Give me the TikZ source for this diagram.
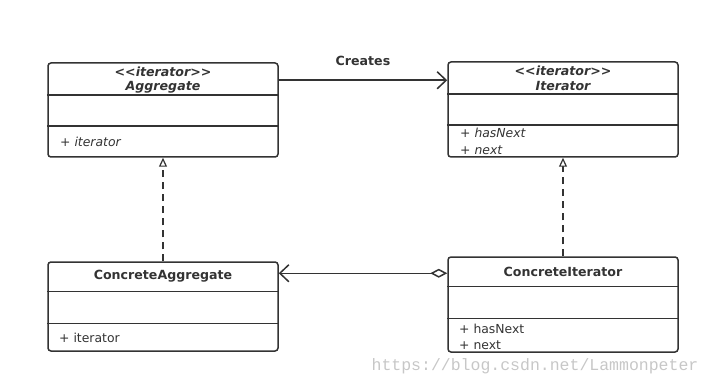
\documentclass[tikz,border=0pt]{standalone}
\usepackage{fontspec}
\setmainfont{DejaVu Sans}
\newfontfamily\wmfont{Liberation Mono}
\usetikzlibrary{arrows.meta,calc}
\definecolor{ink}{RGB}{51,51,51}
\newcommand{\stereo}{<\kern0pt<iterator>\kern0pt>}
\begin{document}
\begin{tikzpicture}[x=1pt,y=-1pt,
  umlbox/.style={draw=ink,line width=1.5pt,rounded corners=3pt,minimum width=230pt,inner sep=0pt},
  divline/.style={draw=ink,line width=1.5pt},
  ttl/.style={text=ink,font=\fontsize{12.6}{14}\selectfont\bfseries,inner sep=0pt},
  ittl/.style={text=ink,font=\fontsize{12.6}{14}\selectfont\bfseries\itshape,inner sep=0pt},
  mem/.style={text=ink,font=\fontsize{12.4}{14}\selectfont,inner sep=0pt,anchor=west},
  imem/.style={text=ink,font=\fontsize{12.4}{14}\selectfont\itshape,inner sep=0pt,anchor=west},
  conn/.style={draw=ink,line width=1.5pt},
  barb/.style={-{Straight Barb[length=9pt,width=17pt,line width=1.5pt]}},
  real/.style={dashed,dash pattern=on 7pt off 5pt,-{Triangle[open,length=9pt,width=8pt,line width=1.2pt,fill=white]}}
]
\useasboundingbox (0,0) rectangle (710,385);

% boxes
\node[umlbox,minimum height=94pt] (a) at (163,110) {};
\node[umlbox,minimum height=95pt] (b) at (563,109.5) {};
\node[umlbox,minimum height=89pt] (c) at (163,306.5) {};
\node[umlbox,minimum height=95pt] (d) at (563,304.5) {};

% dividers
\draw[divline] ($(a.north west)+(0,33)$) -- ($(a.north east)+(0,33)$);
\draw[divline] ($(a.north west)+(0,64)$) -- ($(a.north east)+(0,64)$);
\draw[divline] ($(b.north west)+(0,33)$) -- ($(b.north east)+(0,33)$);
\draw[divline] ($(b.north west)+(0,64)$) -- ($(b.north east)+(0,64)$);
\draw[divline] ($(c.north west)+(0,30)$) -- ($(c.north east)+(0,30)$);
\draw[divline] ($(c.north west)+(0,62)$) -- ($(c.north east)+(0,62)$);
\draw[divline] ($(d.north west)+(0,30)$) -- ($(d.north east)+(0,30)$);
\draw[divline] ($(d.north west)+(0,62)$) -- ($(d.north east)+(0,62)$);

% texts
\node[ittl] (as) at (163,72) {\stereo};
\node[ittl] (an) at (163,87) {Aggregate};
\node[imem] (am) at (60,142) {+ iterator};

\node[ittl] (bs) at (563,71) {\stereo};
\node[ittl] (bn) at (563,86) {Iterator};
\node[imem] (bm1) at (460,133) {+ hasNext};
\node[imem] (bm2) at (460,150) {+ next};

\node[ttl] (cn) at (163,276) {ConcreteAggregate};
\node[mem] (cm) at (59,338) {+ iterator};

\node[ttl] (dn) at (563,272) {ConcreteIterator};
\node[mem] (dm1) at (459,329) {+ hasNext};
\node[mem] (dm2) at (459,345) {+ next};

% connectors
\draw[conn,barb] ($(a.north east)+(0,18)$) -- node[ttl,above=14pt] (lbl) {Creates} ($(b.north west)+(0,19)$);
\draw[conn,real] (c.north) -- (a.south);
\draw[conn,real] (d.north) -- (b.south);
\draw[conn,{Diamond[open,length=17pt,width=9pt,line width=1.5pt]}-{Straight Barb[length=9pt,width=17pt,line width=1.5pt]}] ($(d.north west)+(0,17)$) -- ($(c.north east)+(0,12)$);

% watermark
\node[text=black!22,font=\wmfont\fontsize{16.5}{18}\selectfont,inner sep=0pt] (wm) at (535,366) {https://blog.csdn.net/Lammonpeter};
\end{tikzpicture}
\end{document}
